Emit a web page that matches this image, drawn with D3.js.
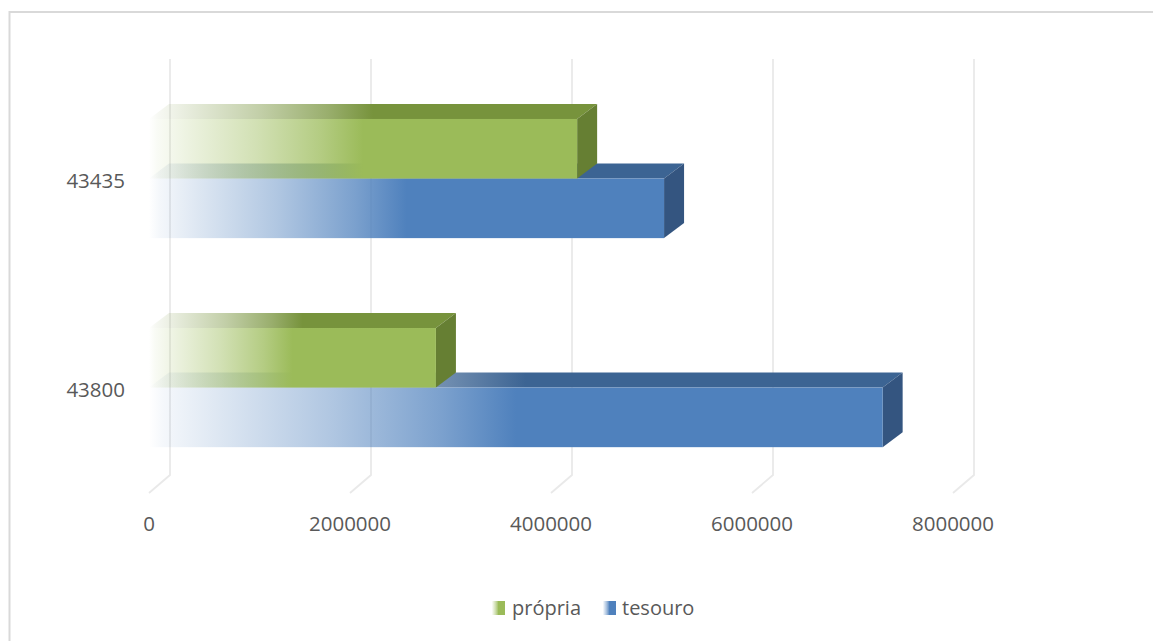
<!DOCTYPE html>
<html>
<head>
<meta charset="utf-8">
<script src="https://cdn.jsdelivr.net/npm/d3@7"></script>
<style>
  html, body { margin: 0; padding: 0; background: #ffffff; }
  svg { display: block; }
  text { font-family: "Open Sans", "Liberation Sans", sans-serif; fill: #595959; }
</style>
</head>
<body>
<svg id="chart" width="1153" height="641"></svg>
<script>
// Categories (row labels) and the two series
const categories = ["43435", "43800"];
const seriesNames = ["própria", "tesouro"];
const propria = [4260000, 2855000];
const tesouro = [5125000, 7300000];
const xTicks = [0, 2000000, 4000000, 6000000, 8000000];

const colors = {
  "própria": { front: "#9bbb59", top: "#77933c", side: "#667f33" },
  "tesouro": { front: "#4f81bd", top: "#3c6493", side: "#345580" }
};

const svg = d3.select("#chart");
const defs = svg.append("defs");

// Chart frame
svg.append("rect")
  .attr("x", 9.5).attr("y", 12)
  .attr("width", 1160).attr("height", 650)
  .attr("fill", "none").attr("stroke", "#d9d9d9").attr("stroke-width", 2);

// Front-plane value scale; back wall is shifted by the depth offset
const x = d3.scaleLinear().domain([0, 8000000]).range([149, 953]);
const wallDepth = { dx: 21, dy: 18 };
const barDepth = { dx: 20, dy: 15 };
const wallTop = 59, wallBottom = 475;

const y = d3.scaleBand()
  .domain(categories)
  .range([wallTop + wallDepth.dy, wallBottom + wallDepth.dy])
  .paddingInner(0.43).paddingOuter(0.21).align(0.478);
const ySub = d3.scaleBand().domain(seriesNames).range([0, y.bandwidth()]);

// Fading gradients (transparent at the base, solid from mid-length)
function fadeGradient(id, color) {
  const g = defs.append("linearGradient").attr("id", id)
    .attr("x1", 0).attr("x2", 1).attr("y1", 0).attr("y2", 0);
  [[0, 0.0], [0.02, 0.06], [0.1, 0.2], [0.25, 0.45], [0.4, 0.75], [0.5, 1], [1, 1]]
    .forEach(([o, a]) => g.append("stop").attr("offset", o)
      .attr("stop-color", color).attr("stop-opacity", a));
}
seriesNames.forEach((s, i) => {
  fadeGradient("front" + i, colors[s].front);
  fadeGradient("top" + i, colors[s].top);
});

// Gridlines: vertical on the back wall, diagonal across the floor
const grid = svg.append("g");
xTicks.forEach(v => {
  const xb = x(v) + wallDepth.dx;
  grid.append("path")
    .attr("d", `M${xb},${wallTop}L${xb},${wallBottom}L${x(v)},${wallBottom + wallDepth.dy}`)
    .attr("fill", "none").attr("stroke", "#e9e9e9").attr("stroke-width", 1.8);
});

// X tick labels
svg.append("g").selectAll("text").data(xTicks).join("text")
  .attr("x", d => x(d)).attr("y", 531)
  .attr("text-anchor", "middle").attr("font-size", 20.5)
  .text(d => String(d));

// Category labels
svg.append("g").selectAll("text").data(categories).join("text")
  .attr("x", 125).attr("y", d => y(d) + y.bandwidth() / 2 + 2)
  .attr("dy", "0.35em").attr("text-anchor", "end").attr("font-size", 20.5)
  .text(d => d);

// 3D bars: lower series first so the upper one overlaps its top face
const bars = svg.append("g");
categories.forEach((c, ci) => {
  const vals = { "própria": propria[ci], "tesouro": tesouro[ci] };
  ["tesouro", "própria"].forEach(s => {
    const si = seriesNames.indexOf(s);
    const x0 = x(0), x1 = x(vals[s]);
    const y0 = y(c) + ySub(s), y1 = y0 + ySub.bandwidth();
    const dx = barDepth.dx, dy = barDepth.dy;
    const g = bars.append("g");
    // top face
    g.append("path")
      .attr("d", `M${x0},${y0}L${x0 + dx},${y0 - dy}L${x1 + dx},${y0 - dy}L${x1},${y0}Z`)
      .attr("fill", `url(#top${si})`);
    // right side face
    g.append("path")
      .attr("d", `M${x1},${y0}L${x1 + dx},${y0 - dy}L${x1 + dx},${y1 - dy}L${x1},${y1}Z`)
      .attr("fill", colors[s].side);
    // front face
    g.append("rect")
      .attr("x", x0).attr("y", y0)
      .attr("width", x1 - x0).attr("height", y1 - y0)
      .attr("fill", `url(#front${si})`);
  });
});

// Legend
const legend = svg.append("g");
const legendItems = [
  { name: "própria", sx: 492, tx: 512 },
  { name: "tesouro", sx: 603, tx: 622 }
];
legendItems.forEach(it => {
  const si = seriesNames.indexOf(it.name);
  legend.append("rect")
    .attr("x", it.sx).attr("y", 601).attr("width", 13).attr("height", 14)
    .attr("fill", `url(#front${si})`);
  legend.append("text")
    .attr("x", it.tx).attr("y", 615).attr("font-size", 20)
    .text(it.name);
});
</script>
</body>
</html>
